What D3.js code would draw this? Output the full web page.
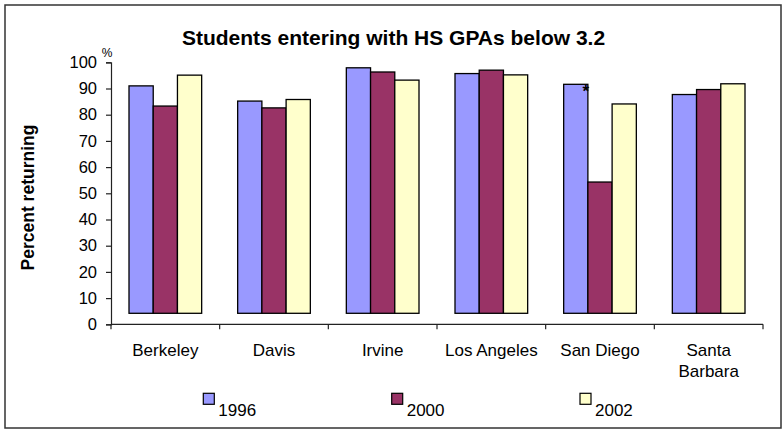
<!DOCTYPE html>
<html><head><meta charset="utf-8">
<script src="https://cdn.jsdelivr.net/npm/d3@7"></script>
<style>body{margin:0;background:#fff}svg{display:block}text{font-family:"Liberation Sans",Arial,sans-serif;fill:#000}</style>
</head><body><svg id="c" width="783" height="430"></svg>
<script>
const categories = ["Berkeley","Davis","Irvine","Los Angeles","San Diego","Santa Barbara"];
const seriesNames = ["1996","2000","2002"];
const v1996 = [91.0, 85.2, 97.9, 95.7, 91.6, 87.7];
const v2000 = [83.3, 82.6, 96.3, 97.0, 54.3, 89.6];
const v2002 = [95.1, 85.8, 93.2, 95.2, 84.1, 91.8];
const yTicks = [0,10,20,30,40,50,60,70,80,90,100];
const colors = ["#9999FF","#993366","#FFFFCC"];
const barBase = 4.2; // bars float slightly above 0 in the original
const title = "Students entering with HS GPAs below 3.2";
const yTitle = "Percent returning";

const series = [v1996, v2000, v2002];
const svg = d3.select("#c");
svg.append("rect").attr("x",5).attr("y",5).attr("width",776).attr("height",423)
  .attr("fill","#fff").attr("stroke","#333").attr("stroke-width",1.5);

const x = d3.scaleBand().domain(categories).range([111,763]).paddingInner(0).paddingOuter(0);
const x1 = d3.scaleBand().domain(seriesNames).range([18, x.bandwidth()-18]).padding(0);
const y = d3.scaleLinear().domain([0,100]).range([324.3,62.3]);

// bars
categories.forEach((c,i)=>{
  const g = svg.append("g").attr("transform",`translate(${x(c)},0)`);
  series.forEach((s,j)=>{
    g.append("rect").attr("x",x1(seriesNames[j])).attr("width",x1.bandwidth())
      .attr("y",y(s[i])).attr("height",y(barBase)-y(s[i]))
      .attr("fill",colors[j]).attr("stroke","#000").attr("stroke-width",1.3);
  });
});

// y axis
const ya = svg.append("g").attr("transform","translate(111,0)")
  .call(d3.axisLeft(y).tickValues(yTicks).tickSize(5).tickPadding(9).tickFormat(d3.format("d")));
ya.select(".domain").attr("stroke","#222").attr("stroke-width",1.2);
ya.selectAll(".tick line").attr("stroke","#222").attr("stroke-width",1.2);
ya.selectAll(".tick text").attr("font-size",16.5).attr("font-family","Liberation Sans, Arial, sans-serif").attr("fill","#000");

// x axis
const xa = svg.append("g").attr("transform",`translate(0,${y(0)})`);
xa.append("line").attr("x1",111).attr("x2",763).attr("stroke","#222").attr("stroke-width",1.2);
const edges = categories.map(c=>x(c)).concat([x(categories[categories.length-1])+x.bandwidth()]);
xa.selectAll("line.t").data(edges).enter().append("line").attr("class","t")
  .attr("x1",d=>d).attr("x2",d=>d).attr("y1",0).attr("y2",5).attr("stroke","#222").attr("stroke-width",1.2);
categories.forEach(c=>{
  const words = c==="Santa Barbara" ? ["Santa","Barbara"] : [c];
  const t = xa.append("text").attr("text-anchor","middle").attr("font-size",17)
    .attr("x",x(c)+x.bandwidth()/2).attr("y",31.4);
  words.forEach((w,k)=>t.append("tspan").attr("x",x(c)+x.bandwidth()/2).attr("dy",k?21:0).text(w));
});

// titles
svg.append("text").attr("x",393.5).attr("y",45).attr("text-anchor","middle")
  .attr("font-size",21).attr("font-weight","bold").text(title);
svg.append("text").attr("transform","translate(34,197.5) rotate(-90)").attr("text-anchor","middle")
  .attr("font-size",17.5).attr("font-weight","bold").text(yTitle);
svg.append("text").attr("x",107).attr("y",57).attr("text-anchor","middle").attr("font-size",12).text("%");

// asterisk annotation on San Diego 1996
svg.append("text").attr("x",x("San Diego")+x1("1996")+x1.bandwidth()-2).attr("y",y(v1996[4])+13)
  .attr("text-anchor","middle").attr("font-size",17).attr("font-weight","bold").text("*");

// legend
const legX = [203.3, 391.7, 580];
seriesNames.forEach((n,j)=>{
  svg.append("rect").attr("x",legX[j]).attr("y",393.3).attr("width",11).attr("height",11)
    .attr("fill",colors[j]).attr("stroke","#000").attr("stroke-width",1.2);
  svg.append("text").attr("x",legX[j]+15).attr("y",416).attr("font-size",17).text(n);
});
</script></body></html>
